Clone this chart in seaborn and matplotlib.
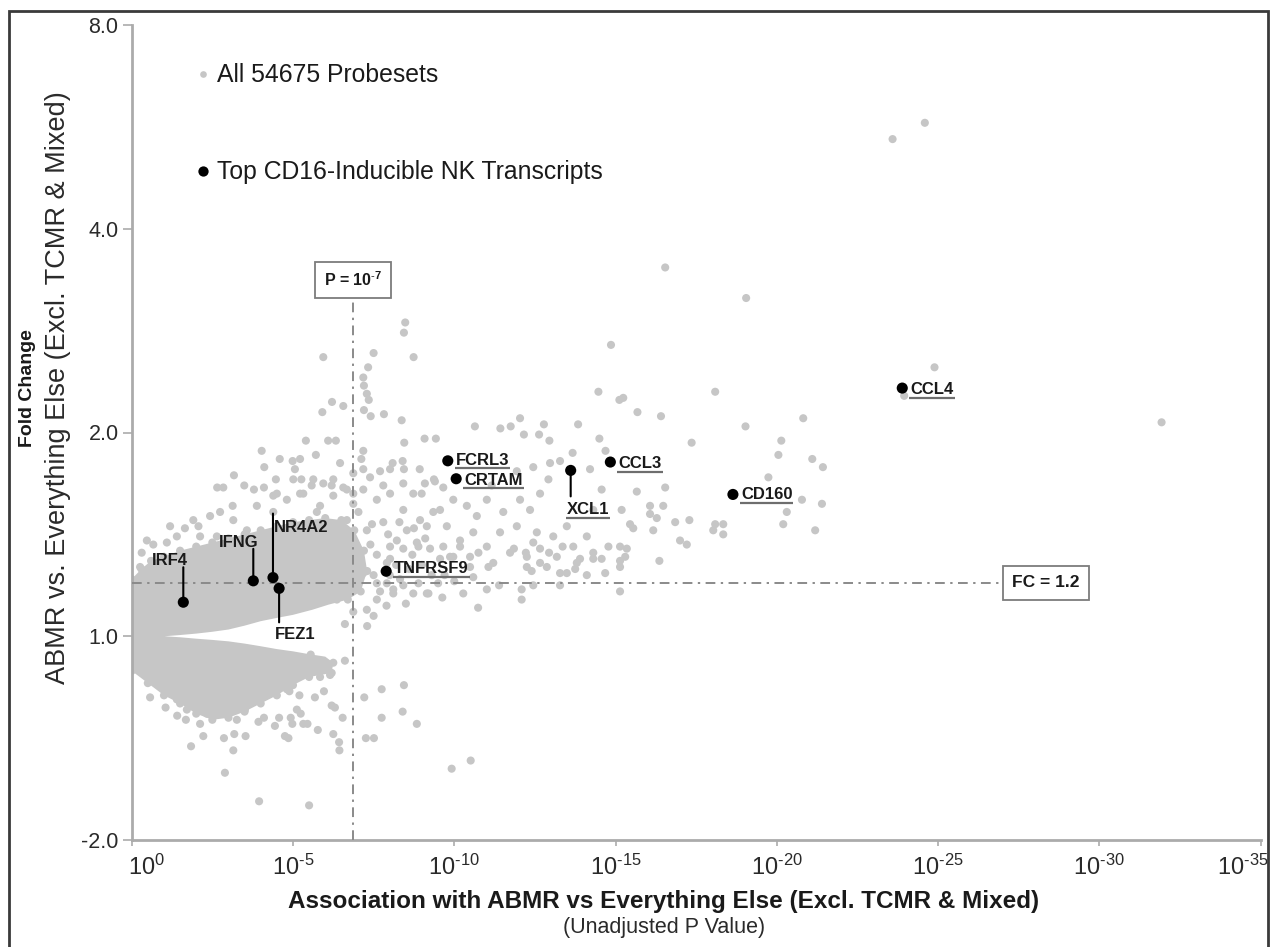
import matplotlib
matplotlib.use("Agg")
import matplotlib.pyplot as plt
import matplotlib.transforms as mtransforms
from matplotlib import font_manager as fm
from matplotlib.lines import Line2D
from matplotlib.patches import Rectangle
import numpy as np
import pandas as pd
import seaborn as sns

# ---------------- data (x = -log10 P, y = log2 fold change) ----------------
X_TICKS = [0, 5, 10, 15, 20, 25, 30, 35]
X_TICK_LABELS = [r"$10^{0}$", r"$10^{\text{-}5}$", r"$10^{\text{-}10}$", r"$10^{\text{-}15}$",
                 r"$10^{\text{-}20}$", r"$10^{\text{-}25}$", r"$10^{\text{-}30}$",
                 r"$10^{\text{-}35}$"]
Y_TICKS = [-1, 0, 1, 2, 3]
Y_TICK_LABELS = ["-2.0", "1.0", "2.0", "4.0", "8.0"]

P_LINE_X = 6.86          # P = 10^-7 threshold line as drawn
FC_LINE_Y = np.log2(1.2)  # FC = 1.2 threshold

NK_GENES = ["IRF4", "IFNG", "NR4A2", "FEZ1", "TNFRSF9", "FCRL3", "CRTAM",
            "XCL1", "CCL3", "CD160", "CCL4"]
NK_X = [1.60, 3.77, 4.38, 4.57, 7.89, 9.80, 10.06, 13.61, 14.84, 18.64, 23.89]
NK_Y = [0.167, 0.272, 0.288, 0.235, 0.319, 0.861, 0.773, 0.814, 0.855, 0.696, 1.218]

# dense core envelope of the probeset cloud
CORE_TOP = [(0.0, 0.28), (0.3, 0.33), (0.6, 0.37), (1.0, 0.39), (1.5, 0.42), (2.0, 0.44),
            (2.5, 0.46), (3.0, 0.48), (3.5, 0.50), (4.0, 0.52), (4.5, 0.54), (5.0, 0.56),
            (5.5, 0.57), (6.0, 0.58), (6.5, 0.57), (6.9, 0.52), (7.2, 0.42), (7.3, 0.32),
            (7.1, 0.22), (6.7, 0.18)]
WEDGE_TOP = [(6.1, 0.155), (5.6, 0.13), (5.0, 0.105), (4.5, 0.09), (4.0, 0.074), (3.5, 0.052),
             (3.0, 0.033), (2.5, 0.022), (2.0, 0.013), (1.5, 0.006), (1.02, 0.0)]
WEDGE_BOTTOM = [(1.5, -0.005), (2.0, -0.012), (2.5, -0.018), (3.0, -0.025), (3.5, -0.036),
                (4.0, -0.049), (4.5, -0.063), (5.0, -0.074), (5.5, -0.088), (6.0, -0.10)]
CORE_BOTTOM = [(6.25, -0.13), (6.2, -0.18), (5.5, -0.20), (5.0, -0.24), (4.5, -0.29),
               (4.0, -0.33), (3.5, -0.37), (3.0, -0.40), (2.5, -0.41), (2.0, -0.38),
               (1.5, -0.33), (1.0, -0.29), (0.5, -0.23), (0.0, -0.17)]

SPARSE_TOP = [
    (24.59, 2.52), (23.59, 2.44), (16.54, 1.81), (19.05, 1.66), (14.86, 1.43), (24.89, 1.32),
    (31.93, 1.05), (23.95, 1.18), (8.48, 1.54), (8.44, 1.49), (5.94, 1.37), (7.50, 1.39),
    (8.74, 1.37), (7.33, 1.32), (7.18, 1.27), (7.20, 1.23), (7.29, 1.19), (7.35, 1.16),
    (6.21, 1.15), (6.56, 1.13), (5.91, 1.10), (7.20, 1.11), (7.41, 1.08), (7.82, 1.09),
    (8.37, 1.06)]
SPARSE_LEFT = [
    (5.40, 0.96), (6.09, 0.96), (6.33, 0.96), (8.45, 0.95), (9.08, 0.97), (9.43, 0.97),
    (4.03, 0.91), (5.71, 0.89), (4.59, 0.87), (4.99, 0.86), (7.18, 0.91), (7.12, 0.87),
    (4.11, 0.83), (5.06, 0.82), (8.09, 0.85), (8.40, 0.86), (8.44, 0.82), (8.93, 0.82),
    (7.18, 0.82), (7.70, 0.81), (3.17, 0.79), (4.47, 0.77), (5.01, 0.77), (5.26, 0.77),
    (5.63, 0.77), (7.39, 0.78), (8.01, 0.82), (2.65, 0.73), (2.84, 0.73), (3.49, 0.74),
    (3.79, 0.72), (4.10, 0.73), (5.58, 0.74), (5.94, 0.75), (6.20, 0.74), (6.56, 0.73),
    (8.42, 0.75), (9.09, 0.75), (9.37, 0.77), (4.50, 0.70), (5.32, 0.70), (6.87, 0.70),
    (7.80, 0.74), (8.73, 0.70), (9.66, 0.73), (9.40, 0.76),
    (2.43, 0.59), (3.13, 0.64), (1.65, 0.53), (2.07, 0.54), (0.67, 0.45), (7.03, 0.61),
    (7.29, 0.52), (8.99, 0.70), (8.42, 0.62), (8.01, 0.70), (7.60, 0.67), (7.18, 0.72),
    (7.80, 0.56), (8.53, 0.52), (8.94, 0.57), (8.22, 0.47), (8.89, 0.44), (9.20, 0.21),
    (8.89, 0.26), (8.32, 0.28), (8.11, 0.21), (7.60, 0.18), (7.29, 0.13), (6.87, 0.23),
    (7.08, 0.37), (7.91, 0.36), (7.18, 0.31), (6.87, 0.12), (6.61, 0.06), (6.36, 0.18),
    (6.25, 0.38), (6.46, 0.44), (6.15, 0.51), (6.67, 0.57), (5.84, 0.64), (6.25, 0.69),
    (6.67, 0.72), (6.87, 0.65),
    (0.31, 0.41), (1.09, 0.46), (1.40, 0.49), (2.12, 0.49), (2.64, 0.49), (3.15, 0.57),
    (3.57, 0.52), (4.39, 0.61), (4.81, 0.67), (5.22, 0.70), (5.74, 0.61), (6.25, 0.77),
    (6.46, 0.85), (6.87, 0.80), (5.22, 0.87), (4.39, 0.69), (3.88, 0.64), (2.74, 0.61),
    (1.91, 0.57), (1.19, 0.54), (0.47, 0.47), (0.26, 0.34),
    (8.11, 0.23), (8.73, 0.21), (9.15, 0.21), (8.01, 0.44), (8.42, 0.43), (8.84, 0.46),
    (9.25, 0.43), (9.66, 0.44), (8.01, 0.38), (9.56, 0.38), (9.97, 0.39), (7.91, 0.26),
    (8.42, 0.25),
    (7.40, 0.45), (7.60, 0.40), (7.50, 0.30), (7.70, 0.22), (7.90, 0.15), (8.20, 0.35),
    (8.60, 0.33), (8.70, 0.40), (9.00, 0.35), (9.30, 0.30), (9.50, 0.26), (7.45, 0.55),
    (7.95, 0.50), (8.30, 0.56), (8.75, 0.53), (9.10, 0.48), (7.60, 0.26), (8.00, 0.30),
    (9.70, 0.30), (10.00, 0.27), (7.30, 0.05), (7.50, 0.10), (8.50, 0.16)]
SPARSE_MID = [
    (14.47, 1.20), (15.12, 1.16), (15.24, 1.17), (15.68, 1.10), (16.41, 1.08), (18.09, 1.20),
    (19.03, 1.03), (20.82, 1.07), (20.14, 0.96), (20.05, 0.89), (17.36, 0.95), (10.64, 1.03),
    (11.43, 1.02), (11.75, 1.03), (12.04, 1.07), (12.16, 0.99), (12.63, 0.99), (12.78, 1.04),
    (12.95, 0.96), (13.84, 1.04), (14.50, 0.97), (14.69, 0.91), (13.67, 0.90), (21.10, 0.87),
    (12.45, 0.83), (12.97, 0.85), (13.28, 0.86), (12.92, 0.77), (11.94, 0.81), (11.16, 0.74),
    (12.04, 0.67), (12.66, 0.70), (14.21, 0.82), (14.57, 0.72), (14.31, 0.62), (15.19, 0.62),
    (15.66, 0.71), (16.54, 0.73), (16.07, 0.64), (16.48, 0.64), (16.07, 0.60), (16.28, 0.58),
    (16.85, 0.56), (17.29, 0.57), (15.45, 0.55), (15.55, 0.53), (16.17, 0.52), (17.00, 0.47),
    (17.21, 0.45), (16.36, 0.37), (15.14, 0.37), (18.09, 0.55), (18.34, 0.55), (18.34, 0.50),
    (18.03, 0.52), (19.74, 0.78), (20.31, 0.61), (20.20, 0.55), (20.78, 0.67), (21.19, 0.52),
    (15.14, 0.22), (21.43, 0.83), (21.40, 0.65),
    (9.56, 0.62), (9.97, 0.67), (10.39, 0.64), (10.70, 0.59), (11.01, 0.67), (11.52, 0.61),
    (11.94, 0.54), (12.35, 0.62), (12.56, 0.51), (13.07, 0.49), (13.49, 0.54), (13.69, 0.44),
    (14.11, 0.49), (9.77, 0.54), (10.18, 0.47), (10.59, 0.51), (11.01, 0.44), (11.42, 0.51),
    (11.73, 0.41), (12.25, 0.39), (12.66, 0.43), (13.18, 0.39), (13.80, 0.36), (14.31, 0.38),
    (9.87, 0.39), (10.49, 0.34), (11.21, 0.36), (12.87, 0.34), (13.49, 0.31), (14.68, 0.31),
    (9.35, 0.61), (9.15, 0.54), (12.45, 0.25), (11.01, 0.23), (13.28, 0.25),
    (15.14, 0.34), (10.74, 0.14), (10.28, 0.21), (9.63, 0.19), (11.39, 0.25), (12.09, 0.23),
    (12.09, 0.18), (13.28, 0.31), (13.75, 0.33), (14.11, 0.30), (12.66, 0.36), (12.25, 0.34),
    (12.40, 0.32), (12.94, 0.41), (13.36, 0.44), (13.90, 0.38), (14.31, 0.41), (14.57, 0.38),
    (14.78, 0.44), (15.14, 0.44), (15.30, 0.39), (15.35, 0.43), (11.85, 0.43), (12.22, 0.41),
    (12.45, 0.46), (10.75, 0.41), (11.06, 0.34), (10.18, 0.44), (10.49, 0.39), (10.59, 0.29)]
SPARSE_LOW = [
    (8.44, -0.24), (7.75, -0.26), (8.40, -0.37), (7.75, -0.40), (8.84, -0.43), (10.51, -0.61),
    (9.92, -0.65), (0.57, -0.30), (1.05, -0.35), (1.41, -0.39), (1.68, -0.41), (2.12, -0.43),
    (2.22, -0.49), (1.84, -0.54), (2.86, -0.50), (3.18, -0.48), (3.53, -0.49), (3.15, -0.56),
    (2.89, -0.67), (3.95, -0.81), (5.50, -0.83), (3.26, -0.41), (3.51, -0.36), (3.93, -0.42),
    (4.10, -0.40), (4.44, -0.44), (4.57, -0.40), (4.75, -0.49), (4.86, -0.50), (4.93, -0.40),
    (4.98, -0.43), (5.12, -0.36), (5.24, -0.38), (5.32, -0.43), (5.45, -0.43), (5.77, -0.46),
    (6.25, -0.48), (6.43, -0.52), (6.44, -0.56), (6.54, -0.40), (6.20, -0.34), (6.30, -0.35),
    (5.96, -0.27), (5.68, -0.30), (5.20, -0.29), (4.89, -0.27), (5.55, -0.09), (6.61, -0.12),
    (7.21, -0.30), (7.26, -0.50), (7.51, -0.50),
    (6.05, -0.14), (6.15, -0.19), (5.84, -0.20), (5.74, -0.16), (5.43, -0.15), (5.22, -0.18),
    (4.81, -0.26), (4.29, -0.28), (3.77, -0.28), (3.46, -0.36), (2.95, -0.34), (2.64, -0.34),
    (2.33, -0.38), (1.71, -0.36), (1.40, -0.31)]

LEGEND_LABELS = ["All 54675 Probesets", "Top CD16-Inducible NK Transcripts"]

# ---------------- style ----------------
sns.set_theme(style="white")
names = {f.name for f in fm.fontManager.ttflist}
HAS_NARROW = "Liberation Sans Narrow" in names
plt.rcParams["font.family"] = ["Liberation Sans", "DejaVu Sans"]
plt.rcParams["mathtext.fontset"] = "custom"
plt.rcParams["mathtext.rm"] = "Liberation Sans"
plt.rcParams["mathtext.it"] = "Liberation Sans:italic"
plt.rcParams["mathtext.bf"] = ("Liberation Sans Narrow:bold" if HAS_NARROW
                               else "Liberation Sans:bold")
plt.rcParams["mathtext.default"] = "regular"
NARROW = ["Liberation Sans Narrow", "Liberation Sans"] if HAS_NARROW else ["Liberation Sans"]
LBL_FS = 14.5 if HAS_NARROW else 12.0
BOX_FS = 15.0 if HAS_NARROW else 12.5
FOLD_FS = 16.0 if HAS_NARROW else 14.0

GRAY = "#c6c6c6"
SPINE = "#ababab"
LINE = "#8a8a8a"
TXT = "#1a1a1a"

W, H = 1279, 947
fig = plt.figure(figsize=(W / 100, H / 100), dpi=100)
ax = fig.add_axes([131.7 / W, 1 - 840 / H, (1260.6 - 131.7) / W, (840 - 25) / H])

# dense core
poly = CORE_TOP + WEDGE_TOP + WEDGE_BOTTOM + CORE_BOTTOM
ax.fill([p[0] for p in poly], [p[1] for p in poly], color=GRAY, lw=0, zorder=1)
edge = pd.DataFrame(CORE_TOP + CORE_BOTTOM, columns=["x", "y"])
sns.scatterplot(data=edge, x="x", y="y", color=GRAY, s=34, edgecolor="none",
                legend=False, ax=ax, zorder=2)

gray = pd.DataFrame(SPARSE_TOP + SPARSE_LEFT + SPARSE_MID + SPARSE_LOW, columns=["x", "y"])
sns.scatterplot(data=gray, x="x", y="y", color=GRAY, s=34, edgecolor="none",
                legend=False, ax=ax, zorder=2)

# threshold lines and boxes
dash = (0, (5.0, 2.8, 1.2, 2.8))
P_BOX_AY = 0.6875
FC_BOX_AX = 0.81
ax.axvline(P_LINE_X, ymin=0, ymax=P_BOX_AY, color=LINE, lw=1.4, ls=dash, zorder=3)
ax.axhline(FC_LINE_Y, xmin=0, xmax=FC_BOX_AX, color=LINE, lw=1.4, ls=dash, zorder=3)
boxprops = dict(boxstyle="square,pad=0.55", fc="white", ec="#7c7c7c", lw=1.3)
ax.text(P_LINE_X, P_BOX_AY, r"P = 10$^{\mathbf{\text{-}7}}$", transform=ax.get_xaxis_transform(),
        ha="center", va="center", fontsize=BOX_FS - 1, fontweight="bold", family=NARROW,
        color=TXT, bbox=boxprops, zorder=6)
ax.text(FC_BOX_AX, FC_LINE_Y, "FC = 1.2", transform=ax.get_yaxis_transform(),
        ha="center", va="center", fontsize=BOX_FS, fontweight="bold", family=NARROW,
        color=TXT, bbox=boxprops, zorder=6)

# NK transcripts
nk = pd.DataFrame({"gene": NK_GENES, "x": NK_X, "y": NK_Y})
sns.scatterplot(data=nk, x="x", y="y", color="black", s=64, edgecolor="none",
                legend=False, ax=ax, zorder=5)

PX = 0.72  # pixels -> points
LAYOUT = {
    "IRF4": dict(dx=-13, dy=37, ha="center", leader=35, ul=False),
    "IFNG": dict(dx=-15, dy=34, ha="center", leader=32, ul=False),
    "NR4A2": dict(dx=1, dy=46, ha="left", leader=64, ul=False),
    "FEZ1": dict(dx=-4, dy=-51, ha="left", leader=-34, ul=False),
    "TNFRSF9": dict(dx=8, dy=-2, ha="left", leader=0, ul=True),
    "FCRL3": dict(dx=8, dy=-4, ha="left", leader=0, ul=True),
    "CRTAM": dict(dx=8, dy=-6, ha="left", leader=0, ul=True),
    "XCL1": dict(dx=-4, dy=-44, ha="left", leader=-26, ul=True),
    "CCL3": dict(dx=8, dy=-6, ha="left", leader=0, ul=True),
    "CD160": dict(dx=8, dy=-5, ha="left", leader=0, ul=True),
    "CCL4": dict(dx=8, dy=-6, ha="left", leader=0, ul=True),
}
texts = []
for g, x, y in zip(NK_GENES, NK_X, NK_Y):
    L = LAYOUT[g]
    if L["leader"]:
        ax.annotate("", xy=(x, y), xytext=(0, L["leader"] * PX), textcoords="offset points",
                    arrowprops=dict(arrowstyle="-", color="black", lw=1.5,
                                    shrinkA=0, shrinkB=0), zorder=4)
    t = ax.annotate(g, xy=(x, y), xytext=(L["dx"] * PX, L["dy"] * PX),
                    textcoords="offset points", ha=L["ha"], va="baseline",
                    fontsize=LBL_FS, fontweight="bold", family=NARROW, color=TXT, zorder=6)
    texts.append((t, x, y, L))

# axes styling
ax.set_xlim(0, 35)
ax.set_ylim(-1, 3)
ax.set_xticks(X_TICKS)
ax.set_xticklabels(X_TICK_LABELS)
ax.set_yticks(Y_TICKS)
ax.set_yticklabels(Y_TICK_LABELS)
ax.set_xlabel("")
ax.set_ylabel("")
for s in ["top", "right"]:
    ax.spines[s].set_visible(False)
for s in ["left", "bottom"]:
    ax.spines[s].set_color(SPINE)
    ax.spines[s].set_linewidth(2.0)
ax.tick_params(axis="y", direction="out", length=6.5, width=1.2, color=SPINE,
               labelsize=15.5, labelcolor="#2a2a2a", pad=3, left=True)
ax.tick_params(axis="x", direction="out", length=4.5, width=1.2, color=SPINE,
               labelsize=17, labelcolor="#2a2a2a", pad=6, bottom=True)
xl = ax.get_xticklabels()
xl[0].set_transform(xl[0].get_transform() + mtransforms.ScaledTranslation(0.15, 0, fig.dpi_scale_trans))
xl[-1].set_transform(xl[-1].get_transform() + mtransforms.ScaledTranslation(-0.18, 0, fig.dpi_scale_trans))

# legend
handles = [Line2D([], [], ls="none", marker="o", markersize=4.8, markerfacecolor=GRAY,
                  markeredgecolor="none"),
           Line2D([], [], ls="none", marker="o", markersize=7.4, markerfacecolor="black",
                  markeredgecolor="none")]
leg = ax.legend(handles, LEGEND_LABELS, loc="upper left", bbox_to_anchor=(0.0569, 0.9528),
                frameon=False, fontsize=17.8, handlelength=0.6, handletextpad=0.25,
                labelspacing=2.95, borderpad=0, borderaxespad=0)
for t in leg.get_texts():
    t.set_color(TXT)

# axis titles
fig.text(664 / W, 1 - 901 / H, "Association with ABMR vs Everything Else (Excl. TCMR & Mixed)",
         ha="center", va="center", fontsize=17.5, fontweight="bold", color=TXT)
fig.text(664 / W, 1 - 927 / H, "(Unadjusted P Value)", ha="center", va="center",
         fontsize=15.5, color="#2a2a2a")
fig.text(28 / W, 1 - 388 / H, "Fold Change", rotation=90, ha="center", va="center",
         fontsize=FOLD_FS, fontweight="bold", family=NARROW, color=TXT)
fig.text(58 / W, 1 - 388 / H, "ABMR vs. Everything Else (Excl. TCMR & Mixed)", rotation=90,
         ha="center", va="center", fontsize=19.5, color="#2a2a2a")

# outer frame
fig.add_artist(Rectangle((9 / W, -0.05), (1268 - 9) / W, (1 - 11 / H) + 0.05,
                         transform=fig.transFigure, fill=False, ec="#3a3a3a", lw=2.0))

# underlines below underlined labels
fig.canvas.draw()
r = fig.canvas.get_renderer()
for t, x, y, L in texts:
    if not L["ul"]:
        continue
    bb = t.get_window_extent(r)
    px, py = ax.transData.transform((x, y))
    yb = py + L["dy"] - 3.5
    fig.add_artist(Line2D([bb.x0 - 1, bb.x1 + 1], [yb, yb], transform=mtransforms.IdentityTransform(),
                          color="#6e6e6e", lw=1.6, solid_capstyle="butt", zorder=6))

fig.savefig("out.png", dpi=100)
